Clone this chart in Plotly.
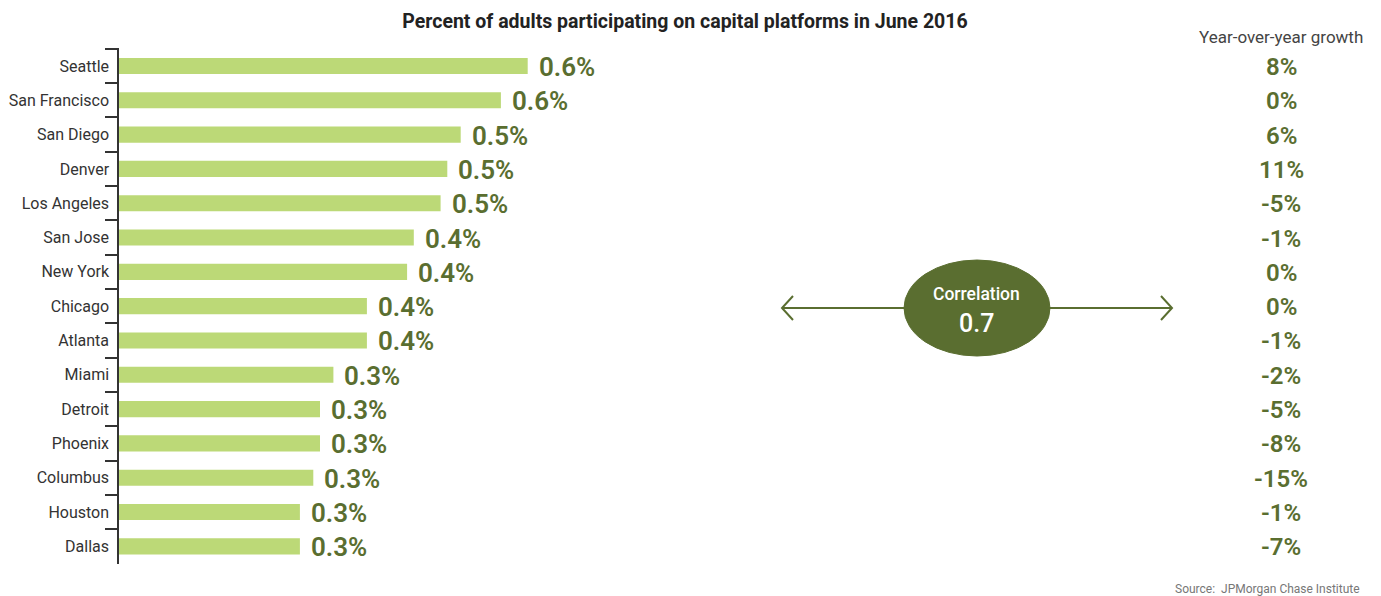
import plotly.graph_objects as go

cities = ["Seattle", "San Francisco", "San Diego", "Denver", "Los Angeles", "San Jose",
          "New York", "Chicago", "Atlanta", "Miami", "Detroit", "Phoenix", "Columbus",
          "Houston", "Dallas"]
participation = [0.61, 0.57, 0.51, 0.49, 0.48, 0.44, 0.43, 0.37, 0.37, 0.32, 0.30, 0.30,
                 0.29, 0.27, 0.27]
yoy_growth = [8, 0, 6, 11, -5, -1, 0, 0, -1, -2, -5, -8, -15, -1, -7]
correlation = 0.7

title_text = "Percent of adults participating on capital platforms in June 2016"
growth_header = "Year-over-year growth"
source_text = "Source:  JPMorgan Chase Institute"

OFF = 8  # default page body margin
W, H = 1381 - OFF, 596 - OFF
DARK = "#5a6e30"
BAR = "#bcd977"
FONT = "Roboto"


def px(x):
    return (x - OFF) / W


def py(y):
    return 1 - (y - OFF) / H


fig = go.Figure()
fig.add_trace(go.Bar(
    y=cities, x=participation, orientation="h",
    marker=dict(color=BAR, line=dict(width=0)),
    hoverinfo="skip",
))

annotations = []
for c, v in zip(cities, participation):
    annotations.append(dict(
        x=v, y=c, xref="x", yref="y", text=f"{v:.1f}%", showarrow=False,
        xanchor="left", xshift=9, yshift=-1,
        font=dict(family=FONT, size=26, color=DARK, weight=600),
    ))
for c, g in zip(cities, yoy_growth):
    annotations.append(dict(
        x=px(1281), y=c, xref="paper", yref="y", text=f"{g}%", showarrow=False,
        xanchor="center", yshift=-1,
        font=dict(family=FONT, size=24, color=DARK, weight=600),
    ))
annotations += [
    dict(x=px(1281), y=py(37), xref="paper", yref="paper", text=growth_header,
         showarrow=False, xanchor="center", yanchor="middle",
         font=dict(family=FONT, size=17, color="#444")),
    dict(x=px(1362), y=py(589), xref="paper", yref="paper", text=source_text,
         showarrow=False, xanchor="right", yanchor="middle",
         font=dict(family=FONT, size=12, color="#777")),
    dict(x=px(977), y=py(294), xref="paper", yref="paper", text="Correlation",
         showarrow=False, xanchor="center", yanchor="middle",
         font=dict(family=FONT, size=17.5, color="white", weight=500)),
    dict(x=px(977), y=py(323), xref="paper", yref="paper", text=f"{correlation}",
         showarrow=False, xanchor="center", yanchor="middle",
         font=dict(family=FONT, size=25, color="white", weight=500)),
]

shapes = [
    dict(type="line", xref="paper", yref="paper", x0=px(782), x1=px(906),
         y0=py(308), y1=py(308), line=dict(color=DARK, width=2)),
    dict(type="line", xref="paper", yref="paper", x0=px(1048), x1=px(1172),
         y0=py(308), y1=py(308), line=dict(color=DARK, width=2)),
    dict(type="path", xref="paper", yref="paper",
         path=f"M {px(793)} {py(296)} L {px(782)} {py(308)} L {px(793)} {py(320)}",
         line=dict(color=DARK, width=2)),
    dict(type="path", xref="paper", yref="paper",
         path=f"M {px(1161)} {py(296)} L {px(1172)} {py(308)} L {px(1161)} {py(320)}",
         line=dict(color=DARK, width=2)),
    dict(type="circle", xref="paper", yref="paper", x0=px(904), x1=px(1050),
         y0=py(260), y1=py(356), fillcolor=DARK, line=dict(color=DARK, width=1),
         layer="above"),
]

fig.update_layout(
    width=W, height=H,
    margin=dict(l=0, r=0, t=0, b=0),
    paper_bgcolor="white", plot_bgcolor="white",
    showlegend=False,
    bargap=0.53,
    title=dict(text=f"<b>{title_text}</b>", x=px(685), xanchor="center",
               y=py(21), yanchor="middle", yref="container",
               font=dict(family=FONT, size=19.5, color="#222")),
    xaxis=dict(domain=[px(119), 1], range=[0, (W - (119 - OFF)) / 670], visible=False,
               fixedrange=True),
    yaxis=dict(domain=[py(563.5), py(48)], autorange="reversed", type="category",
               showline=True, linecolor="#333", linewidth=1.5,
               ticks="outside", tickson="boundaries", ticklen=12, tickwidth=1.5,
               tickcolor="#333", showgrid=False, ticklabelstandoff=5,
               tickfont=dict(family=FONT, size=16, color="#333")),
    annotations=annotations,
    shapes=shapes,
)

fig.write_html("out.html")
